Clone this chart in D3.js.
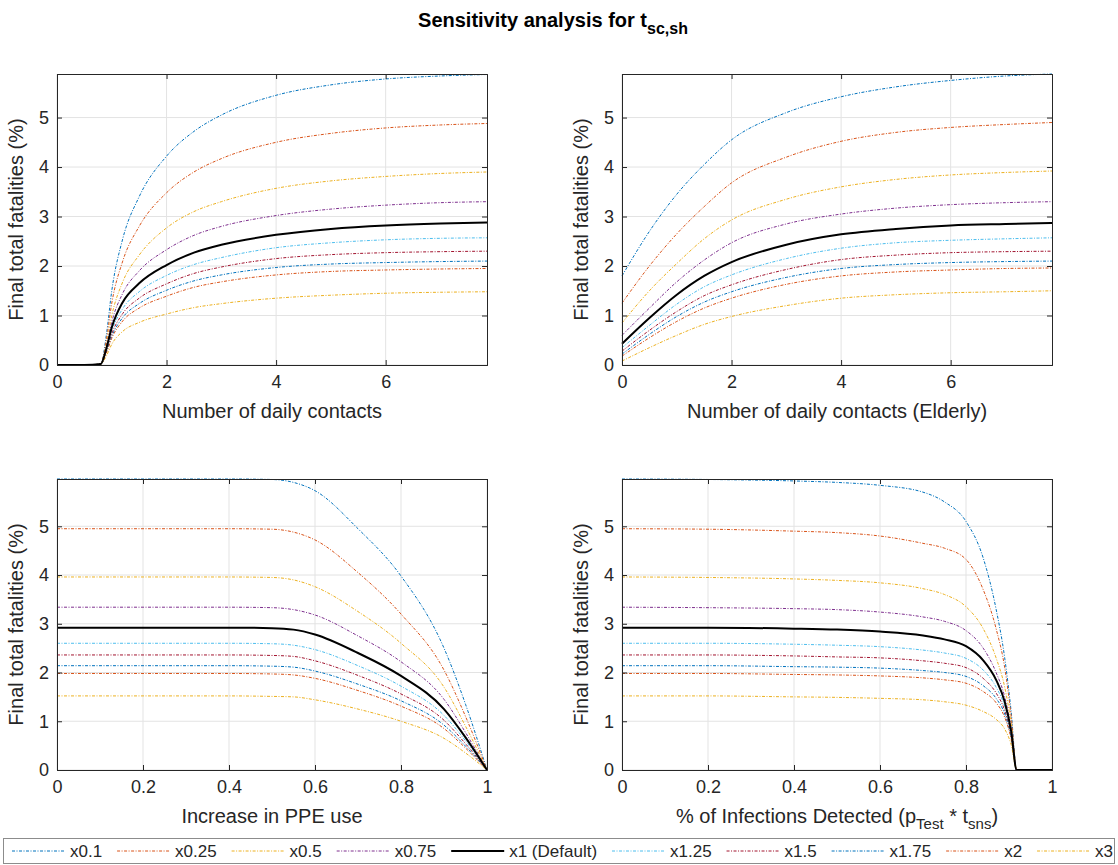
<!DOCTYPE html>
<html>
<head>
<meta charset="utf-8">
<script src="https://cdn.jsdelivr.net/npm/d3@7"></script>
<style>
  body { margin: 0; background: #fff; }
  text { font-family: "Liberation Sans", Arial, Helvetica, sans-serif; fill: #262626; }
</style>
</head>
<body>
<svg id="chart" width="1118" height="865"></svg>
<script>
// series names and colours (MATLAB default order)
var seriesNames = ["x0.1", "x0.25", "x0.5", "x0.75", "x1 (Default)", "x1.25", "x1.5", "x1.75", "x2", "x3"];
var seriesColors = ["#0072BD", "#D95319", "#EDB120", "#7E2F8E", "#000000", "#4DBEEE", "#A2142F", "#0072BD", "#D95319", "#EDB120"];

// panel 1: number of daily contacts
var xs1 = [0, 0.5, 0.8, 0.9, 1.0, 1.2, 1.5, 2, 2.5, 3, 4, 5, 6, 7, 7.85];
var ys1 = [
    [0, 0, 0.02, 0.6, 1.5, 2.55, 3.4, 4.22, 4.72, 5.05, 5.45, 5.66, 5.78, 5.84, 5.87],
    [0, 0, 0.02, 0.5, 1.25, 2.1, 2.8, 3.48, 3.9, 4.17, 4.5, 4.68, 4.79, 4.85, 4.88],
    [0, 0, 0.02, 0.42, 1.0, 1.68, 2.22, 2.77, 3.1, 3.3, 3.57, 3.72, 3.81, 3.87, 3.9],
    [0, 0, 0.02, 0.37, 0.87, 1.45, 1.9, 2.33, 2.62, 2.8, 3.02, 3.15, 3.23, 3.28, 3.3],
    [0, 0, 0.02, 0.33, 0.76, 1.27, 1.65, 2.02, 2.27, 2.43, 2.63, 2.75, 2.82, 2.86, 2.88],
    [0, 0, 0.02, 0.3, 0.69, 1.14, 1.48, 1.81, 2.03, 2.17, 2.37, 2.47, 2.53, 2.56, 2.57],
    [0, 0, 0.02, 0.28, 0.63, 1.04, 1.35, 1.64, 1.85, 1.98, 2.15, 2.23, 2.27, 2.29, 2.3],
    [0, 0, 0.02, 0.26, 0.58, 0.96, 1.24, 1.51, 1.7, 1.82, 1.97, 2.04, 2.07, 2.09, 2.1],
    [0, 0, 0.02, 0.24, 0.54, 0.89, 1.15, 1.39, 1.57, 1.68, 1.82, 1.89, 1.92, 1.94, 1.95],
    [0, 0, 0.02, 0.18, 0.42, 0.68, 0.86, 1.03, 1.16, 1.24, 1.35, 1.41, 1.45, 1.47, 1.48]
];

// panel 2: number of daily contacts (elderly)
var xs2 = [0, 0.5, 1, 1.5, 2, 3, 4, 5, 6, 7, 7.85];
var ys2 = [
    [1.8, 2.7, 3.45, 4.05, 4.55, 5.1, 5.42, 5.62, 5.75, 5.84, 5.88],
    [1.25, 2.0, 2.65, 3.2, 3.68, 4.2, 4.52, 4.7, 4.8, 4.86, 4.9],
    [0.85, 1.5, 2.05, 2.55, 2.93, 3.35, 3.6, 3.75, 3.84, 3.89, 3.92],
    [0.6, 1.15, 1.68, 2.12, 2.47, 2.85, 3.05, 3.17, 3.24, 3.28, 3.3],
    [0.43, 0.95, 1.42, 1.8, 2.08, 2.43, 2.64, 2.75, 2.82, 2.85, 2.87],
    [0.35, 0.8, 1.23, 1.58, 1.82, 2.15, 2.36, 2.47, 2.52, 2.55, 2.57],
    [0.28, 0.7, 1.08, 1.4, 1.62, 1.93, 2.13, 2.22, 2.27, 2.29, 2.3],
    [0.22, 0.62, 0.98, 1.27, 1.48, 1.77, 1.95, 2.03, 2.07, 2.09, 2.1],
    [0.18, 0.55, 0.88, 1.15, 1.35, 1.63, 1.8, 1.88, 1.92, 1.95, 1.96],
    [0.08, 0.35, 0.6, 0.82, 0.98, 1.2, 1.35, 1.42, 1.46, 1.48, 1.5]
];

// panel 3: increase in PPE use
var xs3 = [0, 0.2, 0.4, 0.5, 0.55, 0.6, 0.7, 0.8, 0.9, 0.95, 1];
var ys3 = [
    [5.97, 5.97, 5.97, 5.96, 5.9, 5.73, 4.95, 3.98, 2.5, 1.35, 0],
    [4.95, 4.95, 4.95, 4.94, 4.88, 4.72, 4.05, 3.2, 2.05, 1.1, 0],
    [3.96, 3.96, 3.96, 3.95, 3.9, 3.76, 3.25, 2.6, 1.7, 0.9, 0],
    [3.34, 3.34, 3.34, 3.33, 3.29, 3.18, 2.75, 2.22, 1.45, 0.77, 0],
    [2.92, 2.92, 2.92, 2.91, 2.88, 2.78, 2.4, 1.93, 1.25, 0.67, 0],
    [2.6, 2.6, 2.6, 2.59, 2.56, 2.47, 2.14, 1.72, 1.12, 0.6, 0],
    [2.36, 2.36, 2.36, 2.35, 2.33, 2.24, 1.94, 1.56, 1.02, 0.54, 0],
    [2.14, 2.14, 2.14, 2.13, 2.11, 2.03, 1.76, 1.42, 0.92, 0.49, 0],
    [1.98, 1.98, 1.98, 1.97, 1.95, 1.88, 1.63, 1.31, 0.85, 0.45, 0],
    [1.52, 1.52, 1.52, 1.51, 1.5, 1.44, 1.25, 1.0, 0.65, 0.35, 0]
];

// panel 4: % of infections detected
var xs4 = [0, 0.2, 0.4, 0.5, 0.6, 0.7, 0.75, 0.8, 0.84, 0.87, 0.89, 0.905, 0.918, 0.95, 1];
var ys4 = [
    [5.97, 5.96, 5.93, 5.9, 5.84, 5.7, 5.5, 5.1, 4.35, 3.3, 2.3, 1.2, 0, 0, 0],
    [4.95, 4.94, 4.9, 4.87, 4.8, 4.65, 4.55, 4.32, 3.7, 2.9, 2.1, 1.1, 0, 0, 0],
    [3.96, 3.95, 3.92, 3.89, 3.84, 3.72, 3.6, 3.35, 2.9, 2.3, 1.7, 0.95, 0, 0, 0],
    [3.34, 3.33, 3.31, 3.29, 3.24, 3.14, 3.05, 2.86, 2.5, 2.0, 1.5, 0.85, 0, 0, 0],
    [2.92, 2.92, 2.9, 2.88, 2.84, 2.76, 2.68, 2.54, 2.25, 1.85, 1.4, 0.8, 0, 0, 0],
    [2.6, 2.6, 2.58, 2.56, 2.53, 2.46, 2.4, 2.29, 2.05, 1.7, 1.3, 0.75, 0, 0, 0],
    [2.36, 2.36, 2.34, 2.32, 2.3, 2.24, 2.19, 2.1, 1.88, 1.58, 1.22, 0.7, 0, 0, 0],
    [2.14, 2.14, 2.12, 2.11, 2.09, 2.04, 2.0, 1.92, 1.73, 1.47, 1.15, 0.67, 0, 0, 0],
    [1.98, 1.98, 1.96, 1.95, 1.93, 1.89, 1.85, 1.78, 1.61, 1.38, 1.08, 0.64, 0, 0, 0],
    [1.52, 1.52, 1.5, 1.49, 1.47, 1.44, 1.4, 1.33, 1.2, 1.04, 0.84, 0.52, 0, 0, 0]
];

var xTicksTop = [0, 2, 4, 6];
var xTicksBottom = [0, 0.2, 0.4, 0.6, 0.8, 1];
var yTicks = [0, 1, 2, 3, 4, 5];

var panels = [
    {xs: xs1, ys: ys1, xMax: 7.85, yMax: 5.88, xTicks: xTicksTop, box: [57, 487, 74, 365],
        xLabel: [["Number of daily contacts", 0]]},
    {xs: xs2, ys: ys2, xMax: 7.85, yMax: 5.88, xTicks: xTicksTop, box: [622, 1052, 74, 365],
        xLabel: [["Number of daily contacts (Elderly)", 0]]},
    {xs: xs3, ys: ys3, xMax: 1, yMax: 5.97, xTicks: xTicksBottom, box: [57, 487, 479, 770],
        xLabel: [["Increase in PPE use", 0]]},
    {xs: xs4, ys: ys4, xMax: 1, yMax: 5.97, xTicks: xTicksBottom, box: [622, 1052, 479, 770],
        xLabel: [["% of Infections Detected (p", 0], ["Test", 1], [" * t", -1], ["sns", 1], [")", -1]]}
];

var svg = d3.select("#chart");
var fmt = d3.format("~g");
var dash = "3,1.5,1,1.5";

// title
var title = svg.append("text")
    .attr("x", 553)
    .attr("y", 27)
    .attr("text-anchor", "middle")
    .style("font-size", "20px")
    .style("font-weight", "bold")
    .style("fill", "#000");
title.append("tspan").text("Sensitivity analysis for t");
title.append("tspan").attr("dy", 7).style("font-size", "16px").text("sc,sh");

panels.forEach(function (p) {
    var x = d3.scaleLinear().domain([0, p.xMax]).range([p.box[0], p.box[1]]);
    var y = d3.scaleLinear().domain([0, p.yMax]).range([p.box[3], p.box[2]]);
    var g = svg.append("g");

    // grid
    g.append("g").selectAll("line")
        .data(p.xTicks)
        .enter().append("line")
        .attr("x1", function (d) { return x(d); })
        .attr("x2", function (d) { return x(d); })
        .attr("y1", p.box[2])
        .attr("y2", p.box[3])
        .attr("stroke", "#e3e3e3");
    g.append("g").selectAll("line")
        .data(yTicks)
        .enter().append("line")
        .attr("y1", function (d) { return y(d); })
        .attr("y2", function (d) { return y(d); })
        .attr("x1", p.box[0])
        .attr("x2", p.box[1])
        .attr("stroke", "#e3e3e3");

    // series
    var line = d3.line()
        .x(function (d) { return x(d[0]); })
        .y(function (d) { return y(d[1]); })
        .curve(d3.curveMonotoneX);

    var order = [0, 1, 2, 3, 5, 6, 7, 8, 9, 4];
    g.append("g").selectAll("path")
        .data(order)
        .enter().append("path")
        .attr("d", function (i) {
            return line(p.xs.map(function (v, k) { return [v, p.ys[i][k]]; }));
        })
        .attr("fill", "none")
        .attr("stroke", function (i) { return seriesColors[i]; })
        .attr("stroke-width", function (i) { return i === 4 ? 2 : 1; })
        .attr("stroke-dasharray", function (i) { return i === 4 ? null : dash; });

    // axes (ticks inside, mirrored)
    var ax = [
        [d3.axisBottom(x).tickValues(p.xTicks).tickSize(-5).tickFormat(fmt), "translate(0," + p.box[3] + ")"],
        [d3.axisTop(x).tickValues(p.xTicks).tickSize(-5).tickFormat(""), "translate(0," + p.box[2] + ")"],
        [d3.axisLeft(y).tickValues(yTicks).tickSize(-5).tickFormat(fmt), "translate(" + p.box[0] + ",0)"],
        [d3.axisRight(y).tickValues(yTicks).tickSize(-5).tickFormat(""), "translate(" + p.box[1] + ",0)"]
    ];
    ax.forEach(function (a) {
        var ag = g.append("g").attr("transform", a[1]).call(a[0]);
        ag.select(".domain").attr("stroke", "#262626").attr("stroke-width", 1);
        ag.selectAll(".tick line").attr("stroke", "#262626");
        ag.selectAll(".tick text")
            .style("font-size", "18px")
            .style("font-family", "'Liberation Sans', Arial, sans-serif")
            .attr("fill", "#262626");
    });
    g.selectAll(".tick text").each(function () {
        var t = d3.select(this);
        if (t.attr("dy") === "0.71em") t.attr("y", 10);
        else t.attr("x", -8);
    });

    // x label
    var xl = g.append("text")
        .attr("x", (p.box[0] + p.box[1]) / 2)
        .attr("y", p.box[3] + 53)
        .attr("text-anchor", "middle")
        .style("font-size", "20px");
    var shift = 0;
    p.xLabel.forEach(function (part) {
        var dy = 0;
        if (part[1] === 1) { dy = 6; shift += 6; }
        if (part[1] === -1) { dy = -shift; shift = 0; }
        xl.append("tspan")
            .attr("dy", dy)
            .style("font-size", part[1] === 1 ? "15px" : "20px")
            .text(part[0]);
    });

    // y label
    g.append("text")
        .attr("transform", "translate(" + (p.box[0] - 34) + "," + ((p.box[2] + p.box[3]) / 2) + ") rotate(-90)")
        .attr("text-anchor", "middle")
        .style("font-size", "20px")
        .text("Final total fatalities (%)");
});

// legend
var leg = svg.append("g");
leg.append("rect")
    .attr("x", 3.5)
    .attr("y", 838.5)
    .attr("width", 1111)
    .attr("height", 25)
    .attr("fill", "#fff")
    .attr("stroke", "#8c8c8c");

var items = leg.selectAll("g.item")
    .data(seriesNames)
    .enter().append("g")
    .attr("class", "item");
items.append("text")
    .attr("y", 857)
    .style("font-size", "17px")
    .text(function (d) { return d; });

var lineLen = 53, gapLT = 5;
var widths = [];
items.select("text").each(function () { widths.push(this.getComputedTextLength()); });
var total = d3.sum(widths) + seriesNames.length * (lineLen + gapLT);
var pad = (1111 - 10 - total) / (seriesNames.length - 1);
var cx = 12;
items.each(function (d, i) {
    var it = d3.select(this);
    it.append("line")
        .attr("x1", cx)
        .attr("x2", cx + lineLen)
        .attr("y1", 851)
        .attr("y2", 851)
        .attr("stroke", seriesColors[i])
        .attr("stroke-width", i === 4 ? 2 : 1)
        .attr("stroke-dasharray", i === 4 ? null : dash);
    it.select("text").attr("x", cx + lineLen + gapLT);
    cx += lineLen + gapLT + widths[i] + pad;
});
</script>
</body>
</html>
